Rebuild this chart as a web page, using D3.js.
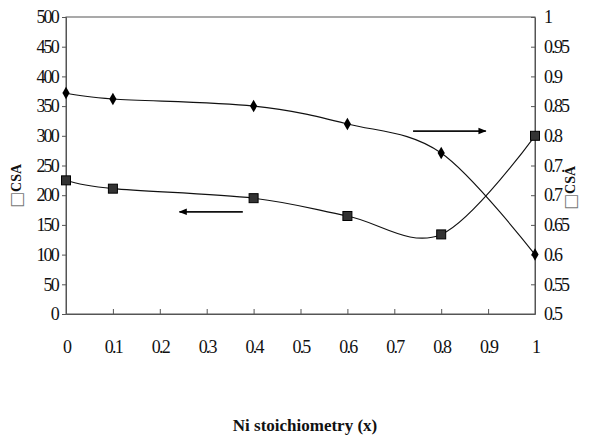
<!DOCTYPE html>
<html>
<head>
<meta charset="utf-8">
<script src="https://cdn.jsdelivr.net/npm/d3@7"></script>
<style>
  body { margin: 0; background: #fff; }
  svg text { font-family: 'Liberation Serif'; fill: #111; }
</style>
</head>
<body>
<svg width="602" height="438"></svg>
<script>
// chart data
var xs = [0, 0.1, 0.4, 0.6, 0.8, 1];
var diamondVals = [0.872, 0.862, 0.85, 0.82, 0.771, 0.6]; // right axis
var squareVals = [225, 211, 195, 165, 134, 300];          // left axis
var xTicks = [0, 0.1, 0.2, 0.3, 0.4, 0.5, 0.6, 0.7, 0.8, 0.9, 1];
var leftTicks = [0, 50, 100, 150, 200, 250, 300, 350, 400, 450, 500];
var rightTicks = [0.5, 0.55, 0.6, 0.65, 0.7, 0.75, 0.8, 0.85, 0.9, 0.95, 1];
var rightTickLabels = ['0.5', '0.55', '0.6', '0.65', '0.7', '0.7.', '0.8', '0.85', '0.9', '0.95', '1'];

var serif = "'Liberation Serif'";
var svg = d3.select('svg');
var m = {l: 66, r: 535, t: 17, b: 314};

var x = d3.scaleLinear().domain([0, 1]).range([m.l, m.r]);
var yL = d3.scaleLinear().domain([0, 500]).range([m.b, m.t]);
var yR = d3.scaleLinear().domain([0.5, 1]).range([m.b, m.t]);

// frame
svg.append('rect')
  .attr('x', m.l).attr('y', m.t)
  .attr('width', m.r - m.l).attr('height', m.b - m.t)
  .attr('fill', 'none').attr('stroke', '#555').attr('stroke-width', 1);

function fmt(d) { return String(d); }

// left axis, ticks outside
var gl = svg.append('g').attr('transform', 'translate(' + m.l + ',0)')
  .call(d3.axisLeft(yL).tickValues(leftTicks).tickSize(4).tickPadding(5).tickFormat(fmt));

// right axis, ticks inside
var gr = svg.append('g').attr('transform', 'translate(' + m.r + ',0)')
  .call(d3.axisRight(yR).tickValues(rightTicks).tickSizeInner(-4).tickSizeOuter(0).tickPadding(9)
    .tickFormat(function(d, i) { return rightTickLabels[i]; }));

// bottom axis, ticks inside
var gb = svg.append('g').attr('transform', 'translate(0,' + m.b + ')')
  .call(d3.axisBottom(x).tickValues(xTicks).tickSizeInner(-5).tickSizeOuter(0).tickPadding(26).tickFormat(fmt));

[gl, gr, gb].forEach(function(g) {
  g.attr('font-family', serif).attr('font-size', 18);
  g.select('.domain').attr('stroke', '#555');
  g.selectAll('.tick line').attr('stroke', '#555');
  g.selectAll('.tick text')
    .attr('letter-spacing', '-1.8px')
    .style('font-family', serif).style('font-size', '18px').attr('fill', '#111');
});
gl.selectAll('.tick text').attr('x', -8);

// curves
var lineR = d3.line().x(function(d) { return x(d[0]); }).y(function(d) { return yR(d[1]); })
  .curve(d3.curveCatmullRom.alpha(0));
var lineL = d3.line().x(function(d) { return x(d[0]); }).y(function(d) { return yL(d[1]); })
  .curve(d3.curveCatmullRom.alpha(0));

var dPts = xs.map(function(v, i) { return [v, diamondVals[i]]; });
var sPts = xs.map(function(v, i) { return [v, squareVals[i]]; });

svg.append('path').datum(dPts).attr('d', lineR)
  .attr('fill', 'none').attr('stroke', '#111').attr('stroke-width', 1.1);
svg.append('path').datum(sPts).attr('d', lineL)
  .attr('fill', 'none').attr('stroke', '#111').attr('stroke-width', 1.1);

svg.selectAll('.dia').data(dPts).enter().append('path')
  .attr('d', d3.symbol().type(d3.symbolDiamond).size(45))
  .attr('transform', function(d) { return 'translate(' + x(d[0]) + ',' + yR(d[1]) + ')'; })
  .attr('fill', '#000');

svg.selectAll('.sq').data(sPts).enter().append('rect')
  .attr('x', function(d) { return x(d[0]) - 4.5; })
  .attr('y', function(d) { return yL(d[1]) - 4.5; })
  .attr('width', 9).attr('height', 9)
  .attr('fill', '#333').attr('stroke', '#000').attr('stroke-width', 1);

// arrows
var defs = svg.append('defs');
defs.append('marker').attr('id', 'ah').attr('viewBox', '0 0 10 10')
  .attr('refX', 9).attr('refY', 5).attr('markerWidth', 4.5).attr('markerHeight', 4.5)
  .attr('markerUnits', 'strokeWidth').attr('orient', 'auto')
  .append('path').attr('d', 'M0,1L10,5L0,9Z').attr('fill', '#000');

var arrows = [
  {x1: 0.74, x2: 0.895, y: 308},
  {x1: 0.377, x2: 0.242, y: 172}
];
svg.selectAll('.arr').data(arrows).enter().append('line')
  .attr('x1', function(d) { return x(d.x1); })
  .attr('x2', function(d) { return x(d.x2); })
  .attr('y1', function(d) { return yL(d.y); })
  .attr('y2', function(d) { return yL(d.y); })
  .attr('stroke', '#111').attr('stroke-width', 1.8)
  .attr('marker-end', 'url(#ah)');

// axis titles
function yTitle(cx, cy) {
  var t = svg.append('text')
    .attr('transform', 'translate(' + cx + ',' + cy + ') rotate(-90)')
    .attr('text-anchor', 'middle')
    .attr('dominant-baseline', 'central');
  t.append('tspan').style('font-size', '17px').style('font-family', "'DejaVu Sans'")
    .style('fill', '#777').text('\u25A1');
  t.append('tspan').style('font-size', '14px').style('font-weight', 'bold').text('CSA');
}
yTitle(16, 186);
yTitle(570, 188);

svg.append('text')
  .attr('x', 305).attr('y', 431)
  .attr('text-anchor', 'middle')
  .style('font-size', '17px').style('font-weight', 'bold')
  .text('Ni stoichiometry (x)');
</script>
</body>
</html>
